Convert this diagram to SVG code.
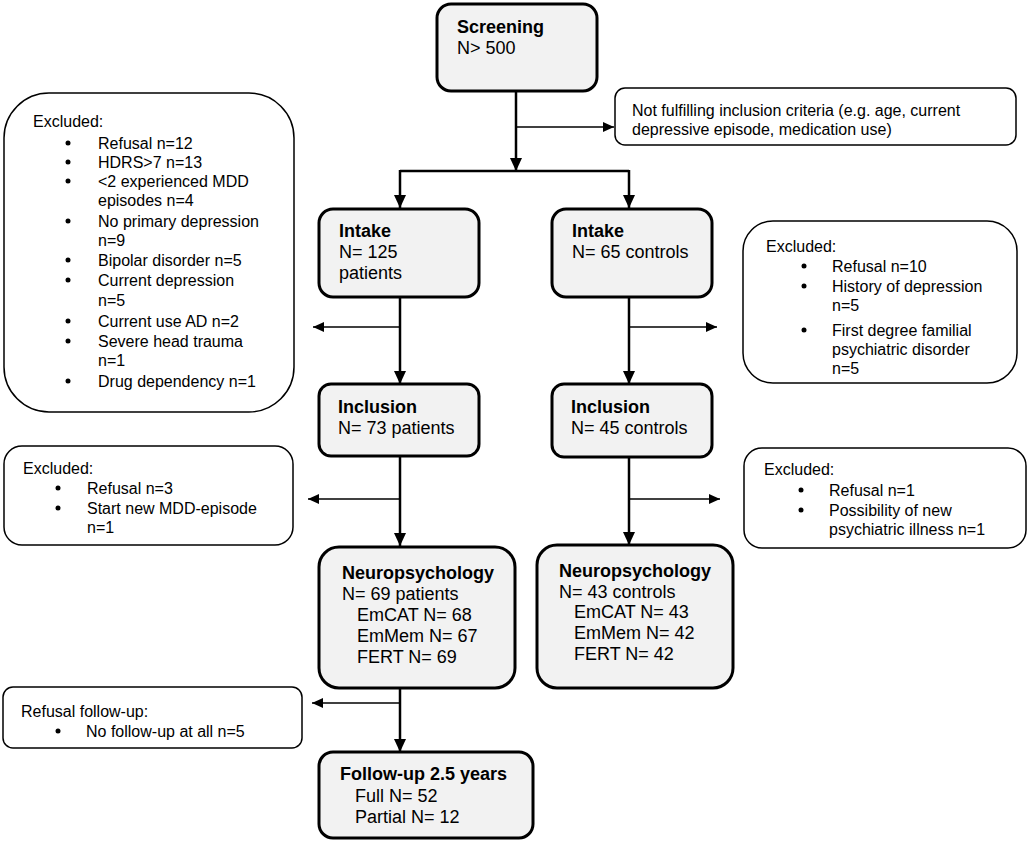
<svg xmlns="http://www.w3.org/2000/svg" width="1030" height="847" viewBox="0 0 1030 847">
<style>
text{font-family:"Liberation Sans",Arial,sans-serif;fill:#000}
.m{font-size:18px}
.b{font-weight:bold}
.s{font-size:16px}
.main{fill:#f2f2f2;stroke:#000;stroke-width:3}
.exc{fill:#fff;stroke:#000;stroke-width:1.5}
.ln{stroke:#000;stroke-width:2.5;fill:none}
.sl{stroke:#000;stroke-width:1.5;fill:none}
</style>
<defs>
<marker id="ah" markerUnits="userSpaceOnUse" markerWidth="14" markerHeight="12" refX="13" refY="6" orient="auto">
<path d="M0,0 L13,6 L0,12 Z" fill="#000"/>
</marker>
<marker id="as" markerUnits="userSpaceOnUse" markerWidth="12" markerHeight="10" refX="11" refY="5" orient="auto">
<path d="M0,0 L11,5 L0,10 Z" fill="#000"/>
</marker>
</defs>
<rect width="1030" height="847" fill="#fff"/>
<g id="connectors">
<path class="ln" d="M516,91 V171" marker-end="url(#ah)"/>
<path class="sl" d="M516,127 H614" marker-end="url(#as)"/>
<path class="ln" d="M400,171 H629"/>
<path class="ln" d="M400,170 V208" marker-end="url(#ah)"/>
<path class="ln" d="M629,170 V208" marker-end="url(#ah)"/>
<path class="ln" d="M400,297 V384" marker-end="url(#ah)"/>
<path class="sl" d="M400,327 H313" marker-end="url(#as)"/>
<path class="ln" d="M629,297 V384" marker-end="url(#ah)"/>
<path class="sl" d="M629,327 H717" marker-end="url(#as)"/>
<path class="ln" d="M400,456 V546" marker-end="url(#ah)"/>
<path class="sl" d="M400,499 H308" marker-end="url(#as)"/>
<path class="ln" d="M629,457 V545" marker-end="url(#ah)"/>
<path class="sl" d="M629,499 H720" marker-end="url(#as)"/>
<path class="ln" d="M400,688 V752" marker-end="url(#ah)"/>
<path class="sl" d="M400,703 H312" marker-end="url(#as)"/>
</g>
<g id="screening">
<rect class="main" x="437" y="4" width="160" height="87" rx="14"/>
<text class="m b" x="457" y="33">Screening</text>
<text class="m" x="457" y="54">N&gt; 500</text>
</g>
<g id="not-fulfilling">
<rect class="exc" x="615" y="88" width="401" height="57" rx="10"/>
<text class="s" x="632" y="116">Not fulfilling inclusion criteria (e.g. age, current</text>
<text class="s" x="632" y="135">depressive episode, medication use)</text>
</g>
<g id="intake-patients">
<rect class="main" x="319" y="209" width="160" height="88" rx="14"/>
<text class="m b" x="339" y="237">Intake</text>
<text class="m" x="339" y="258">N= 125</text>
<text class="m" x="339" y="279">patients</text>
</g>
<g id="intake-controls">
<rect class="main" x="552" y="209" width="160" height="88" rx="14"/>
<text class="m b" x="572" y="237">Intake</text>
<text class="m" x="572" y="258">N= 65 controls</text>
</g>
<g id="excluded-intake-patients">
<rect class="exc" x="4" y="93" width="290" height="319" rx="45"/>
<text class="s" x="33" y="127">Excluded:</text>
<circle cx="68" cy="143" r="2.5"/><text class="s" x="98" y="149">Refusal n=12</text>
<circle cx="68" cy="162" r="2.5"/><text class="s" x="98" y="168">HDRS&gt;7 n=13</text>
<circle cx="68" cy="181" r="2.5"/><text class="s" x="98" y="187">&lt;2 experienced MDD</text>
<text class="s" x="98" y="206">episodes n=4</text>
<circle cx="68" cy="221" r="2.5"/><text class="s" x="98" y="227">No primary depression</text>
<text class="s" x="98" y="246">n=9</text>
<circle cx="68" cy="260" r="2.5"/><text class="s" x="98" y="266">Bipolar disorder n=5</text>
<circle cx="68" cy="280" r="2.5"/><text class="s" x="98" y="286">Current depression</text>
<text class="s" x="98" y="306">n=5</text>
<circle cx="68" cy="321" r="2.5"/><text class="s" x="98" y="327">Current use AD n=2</text>
<circle cx="68" cy="341" r="2.5"/><text class="s" x="98" y="347">Severe head trauma</text>
<text class="s" x="98" y="366">n=1</text>
<circle cx="68" cy="381" r="2.5"/><text class="s" x="98" y="387">Drug dependency n=1</text>
</g>
<g id="excluded-intake-controls">
<rect class="exc" x="743" y="221" width="274" height="162" rx="30"/>
<text class="s" x="766" y="252">Excluded:</text>
<circle cx="804" cy="266" r="2.5"/><text class="s" x="832" y="272">Refusal n=10</text>
<circle cx="804" cy="286" r="2.5"/><text class="s" x="832" y="292">History of depression</text>
<text class="s" x="832" y="311">n=5</text>
<circle cx="804" cy="330" r="2.5"/><text class="s" x="832" y="336">First degree familial</text>
<text class="s" x="832" y="355">psychiatric disorder</text>
<text class="s" x="832" y="374">n=5</text>
</g>
<g id="inclusion-patients">
<rect class="main" x="319" y="384" width="160" height="72" rx="12"/>
<text class="m b" x="338" y="413">Inclusion</text>
<text class="m" x="338" y="434">N= 73 patients</text>
</g>
<g id="inclusion-controls">
<rect class="main" x="552" y="384" width="160" height="73" rx="12"/>
<text class="m b" x="571" y="413">Inclusion</text>
<text class="m" x="571" y="434">N= 45 controls</text>
</g>
<g id="excluded-inclusion-patients">
<rect class="exc" x="4" y="446" width="289" height="99" rx="18"/>
<text class="s" x="23" y="474">Excluded:</text>
<circle cx="58" cy="488" r="2.5"/><text class="s" x="87" y="494">Refusal n=3</text>
<circle cx="58" cy="508" r="2.5"/><text class="s" x="87" y="514">Start new MDD-episode</text>
<text class="s" x="87" y="533">n=1</text>
</g>
<g id="excluded-inclusion-controls">
<rect class="exc" x="744" y="448" width="282" height="100" rx="18"/>
<text class="s" x="764" y="475">Excluded:</text>
<circle cx="801" cy="490" r="2.5"/><text class="s" x="829" y="496">Refusal n=1</text>
<circle cx="801" cy="510" r="2.5"/><text class="s" x="829" y="516">Possibility of new</text>
<text class="s" x="829" y="535">psychiatric illness n=1</text>
</g>
<g id="neuro-patients">
<rect class="main" x="319" y="547" width="196" height="141" rx="20"/>
<text class="m b" x="342" y="579">Neuropsychology</text>
<text class="m" x="342" y="600">N= 69 patients</text>
<text class="m" x="357" y="621">EmCAT N= 68</text>
<text class="m" x="357" y="642">EmMem N= 67</text>
<text class="m" x="357" y="663">FERT N= 69</text>
</g>
<g id="neuro-controls">
<rect class="main" x="537" y="545" width="196" height="143" rx="20"/>
<text class="m b" x="559" y="577">Neuropsychology</text>
<text class="m" x="559" y="598">N= 43 controls</text>
<text class="m" x="574" y="618">EmCAT N= 43</text>
<text class="m" x="574" y="639">EmMem N= 42</text>
<text class="m" x="574" y="660">FERT N= 42</text>
</g>
<g id="refusal-followup">
<rect class="exc" x="3" y="687" width="299" height="61" rx="10"/>
<text class="s" x="21" y="717">Refusal follow-up:</text>
<circle cx="58" cy="731" r="2.5"/><text class="s" x="86" y="737">No follow-up at all n=5</text>
</g>
<g id="followup">
<rect class="main" x="319" y="752" width="214" height="86" rx="14"/>
<text class="m b" x="340" y="780">Follow-up 2.5 years</text>
<text class="m" x="355" y="802">Full N= 52</text>
<text class="m" x="355" y="823">Partial N= 12</text>
</g>
</svg>
